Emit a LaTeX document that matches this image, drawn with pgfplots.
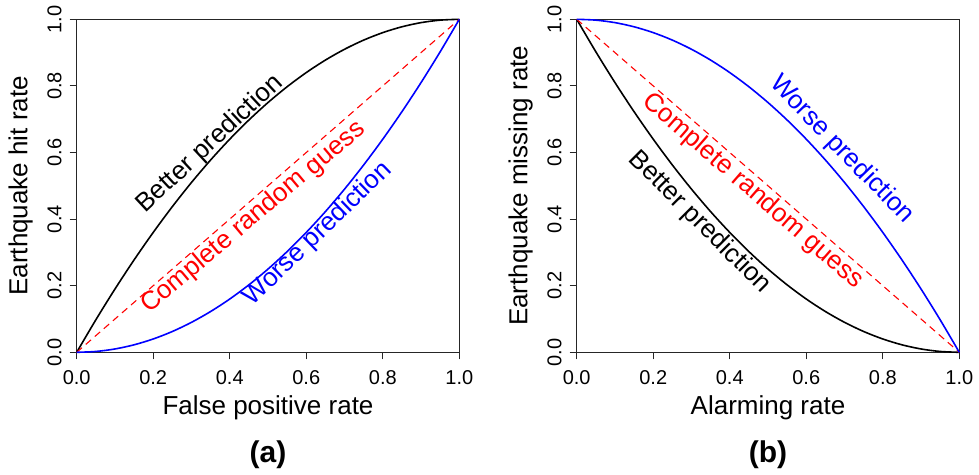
\documentclass[border=0pt]{standalone}
\usepackage{fontspec}
\setmainfont{Liberation Sans}
\usepackage{pgfplots}
\usepackage{pgfplotstable}
\pgfplotsset{compat=1.18}

% x, hit rate (better / worse), missing rate (better / worse)
\pgfplotstableread{
x     hb      hw      mb      mw
0.00  0.0000  0.0000  1.0000  1.0000
0.05  0.0975  0.0025  0.9025  0.9975
0.10  0.1900  0.0100  0.8100  0.9900
0.15  0.2775  0.0225  0.7225  0.9775
0.20  0.3600  0.0400  0.6400  0.9600
0.25  0.4375  0.0625  0.5625  0.9375
0.30  0.5100  0.0900  0.4900  0.9100
0.35  0.5775  0.1225  0.4225  0.8775
0.40  0.6400  0.1600  0.3600  0.8400
0.45  0.6975  0.2025  0.3025  0.7975
0.50  0.7500  0.2500  0.2500  0.7500
0.55  0.7975  0.3025  0.2025  0.6975
0.60  0.8400  0.3600  0.1600  0.6400
0.65  0.8775  0.4225  0.1225  0.5775
0.70  0.9100  0.4900  0.0900  0.5100
0.75  0.9375  0.5625  0.0625  0.4375
0.80  0.9600  0.6400  0.0400  0.3600
0.85  0.9775  0.7225  0.0225  0.2775
0.90  0.9900  0.8100  0.0100  0.1900
0.95  0.9975  0.9025  0.0025  0.0975
1.00  1.0000  1.0000  0.0000  0.0000
}\curves

\definecolor{rblue}{RGB}{0,0,255}
\definecolor{rred}{RGB}{255,0,0}

\tikzset{
  curve/.style={line width=1.6pt, smooth},
  guess/.style={line width=1.1pt, rred, dash pattern=on 7pt off 5pt},
  intext/.style={font=\fontsize{26}{30}\selectfont, inner sep=0pt},
}

\pgfplotsset{
  panel/.style={
    scale only axis, width=382.6pt, height=333pt,
    xmin=0, xmax=1, ymin=0, ymax=1,
    clip=false,
    axis line style={black!85, line width=1.2pt},
    xtick={0,0.2,...,1}, ytick={0,0.2,...,1},
    xtick pos=bottom, ytick pos=left,
    tick align=outside, major tick length=7pt,
    tick style={black!85, line width=1.1pt},
    /pgf/number format/assume math mode=true,
    /pgf/number format/fixed, /pgf/number format/fixed zerofill,
    /pgf/number format/precision=1,
    ticklabel style={font=\fontsize{20}{24}\selectfont},
    xticklabel style={anchor=north, inner sep=0pt, yshift=-11pt},
    yticklabel style={rotate=90, anchor=south, inner sep=0pt, yshift=8pt},
    every axis x label/.style={at={(axis description cs:0.5,-0.168)}, anchor=center,
      font=\fontsize{26}{30}\selectfont},
    every axis y label/.style={at={(axis description cs:-0.1464,0.5)}, rotate=90, anchor=center,
      font=\fontsize{26}{30}\selectfont},
  },
}

\begin{document}
\begin{tikzpicture}[x=1pt,y=1pt]
\path[use as bounding box] (-76.7,352.3) rectangle (902.3,-121.7);

\begin{axis}[panel, at={(0pt,0pt)}, anchor=south west,
  xlabel={False positive rate}, ylabel={Earthquake hit rate}]
  \addplot[curve, black] table[x=x, y=hb] {\curves};
  \addplot[guess] coordinates {(0,0) (1,1)};
  \addplot[curve, rblue] table[x=x, y=hw] {\curves};
  \node[intext, black, rotate=43] at (axis cs:0.348,0.625) {Better prediction};
  \node[intext, rred, rotate=40] at (axis cs:0.462,0.405) {Complete random guess};
  \node[intext, rblue, rotate=44] at (axis cs:0.631,0.355) {Worse prediction};
  \node[font=\fontsize{30}{34}\selectfont\bfseries] at (rel axis cs:0.5,-0.309) {(a)};
\end{axis}

\begin{axis}[panel, at={(500pt,0pt)}, anchor=south west,
  xlabel={Alarming rate}, ylabel={Earthquake missing rate}]
  \addplot[curve, black] table[x=x, y=mb] {\curves};
  \addplot[guess] coordinates {(0,1) (1,0)};
  \addplot[curve, rblue] table[x=x, y=mw] {\curves};
  \node[intext, rblue, rotate=-46] at (axis cs:0.692,0.609) {Worse prediction};
  \node[intext, rred, rotate=-41] at (axis cs:0.4595,0.484) {Complete random guess};
  \node[intext, black, rotate=-45] at (axis cs:0.321,0.390) {Better prediction};
  \node[font=\fontsize{30}{34}\selectfont\bfseries] at (rel axis cs:0.5,-0.309) {(b)};
\end{axis}
\end{tikzpicture}
\end{document}
